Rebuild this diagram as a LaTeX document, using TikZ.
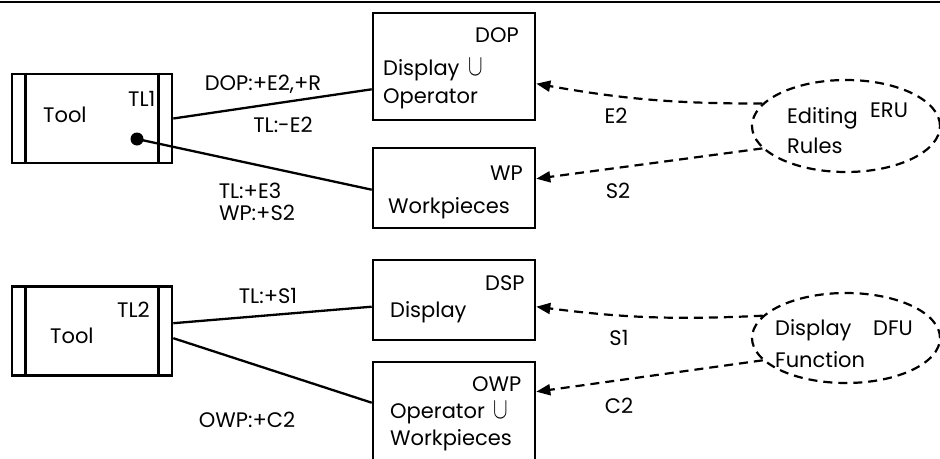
\documentclass[tikz,border=0pt]{standalone}
\usepackage{fontspec}
\usepackage{graphicx}
\setmainfont{Poppins}
\usetikzlibrary{arrows.meta,shapes.geometric,calc,positioning}
\newcommand{\un}{\,\smash{\scalebox{1.05}[1.45]{$\cup$}}}
\tikzset{
  box/.style    = { draw, line width=2.6pt, rectangle, inner sep=0pt },
  toolbox/.style= { box, minimum width=160pt, minimum height=89pt },
  unitbox/.style= { box, minimum width=162pt },
  rule/.style   = { draw, line width=2.2pt, ellipse, inner sep=0pt,
    dash pattern=on 9pt off 6pt },
  ln/.style     = { fill=black, circle, inner sep=0pt, minimum size=13pt },
  txt/.style    = { inner sep=0pt, anchor=base west },
  lbl/.style    = { inner sep=0pt, anchor=base },
  conn/.style   = { line width=2.3pt },
  dep/.style    = { line width=2.2pt, dash pattern=on 9pt off 6pt,
    -{Triangle[length=14pt,width=11pt]} }
}
\begin{document}
\begin{tikzpicture}[x=1pt,y=-1pt,font=\fontsize{21}{24}\selectfont]
  \useasboundingbox (0,0) rectangle (940,458);
  \clip (0,0) rectangle (940,458);
  \draw[line width=2.4pt] (0,2) -- (940,2);
  % tools
  \node[toolbox] (tl1) at (92,118.5) {};
  \node[toolbox] (tl2) at (92,331) {};
  \foreach \t in {tl1,tl2} {
    \draw[line width=2.6pt] ($(\t.north west)+(15,0)$) -- ($(\t.south west)+(15,0)$);
    \draw[line width=2.6pt] ($(\t.north east)+(-15,0)$) -- ($(\t.south east)+(-15,0)$);
  }
  \node[txt] (tl1n) at (128,106) {TL1};
  \node[txt] (tl1t) at (43,122) {Tool};
  \node[ln] (hd) at (137,139) {};
  \node[txt] (tl2n) at (117,317) {TL2};
  \node[txt] (tl2t) at (50,343) {Tool};
  % units
  \node[unitbox, minimum height=107pt] (dop) at (454,66.5) {};
  \node[unitbox, minimum height=80pt] (wp) at (454,188) {};
  \node[unitbox, minimum height=80pt] (dsp) at (454,300) {};
  \node[unitbox, minimum height=120pt] (owp) at (454,422) {};
  \node[txt] (dopn) at (475,42) {DOP};
  \node[txt] (dopa) at (383,75) {Display \un};
  \node[txt] (dopb) at (383,103) {Operator};
  \node[txt] (wpn) at (490,180) {WP};
  \node[txt] (wpa) at (388,213) {Workpieces};
  \node[txt] (dspn) at (485,290) {DSP};
  \node[txt] (dspa) at (390,317) {Display};
  \node[txt] (owpn) at (472,391) {OWP};
  \node[txt] (owpa) at (390,418) {Operator \un};
  \node[txt] (owpb) at (390,445) {Workpieces};
  % rules
  \node[rule, minimum width=188pt, minimum height=92pt] (eru) at (846,126) {};
  \node[rule, minimum width=188pt, minimum height=90pt] (dfu) at (846,338) {};
  \node[txt] (erua) at (787,123) {Editing};
  \node[txt] (erub) at (787,153) {Rules};
  \node[txt] (erun) at (870,117) {ERU};
  \node[txt] (dfua) at (775,335) {Display};
  \node[txt] (dfub) at (775,367) {Function};
  \node[txt] (dfun) at (873,335) {DFU};
  % connectors
  \draw[conn] (tl1.east) -- ($(dop.south west)+(0,-32)$);
  \draw[conn] (hd.center) -- ($(wp.north west)+(0,43)$);
  \draw[conn] ($(tl2.north east)+(0,38)$) -- ($(dsp.north west)+(0,48)$);
  \draw[conn] ($(tl2.north east)+(0,53)$) -- ($(owp.north west)+(0,42)$);
  \draw[dep] (eru.165) to[bend left=5] ($(dop.north east)+(0,72)$);
  \draw[dep] (eru.195) -- ($(wp.north east)+(0,32)$);
  \draw[dep] (dfu.165) to[bend left=5] ($(dsp.north east)+(0,48)$);
  \draw[dep] (dfu.195) -- ($(owp.north east)+(0,31)$);
  % labels
  \node[lbl] (l1) at (263,90) {DOP:+E2,+R};
  \node[lbl] (l2) at (283,132) {TL:-E2};
  \node[lbl] (l3) at (250,198) {TL:+E3};
  \node[lbl] (l4) at (257,220) {WP:+S2};
  \node[lbl] (l5) at (268,303) {TL:+S1};
  \node[lbl] (l6) at (247,427) {OWP:+C2};
  \node[lbl] (l7) at (616,123) {E2};
  \node[lbl] (l8) at (618,198) {S2};
  \node[lbl] (l9) at (619,345) {S1};
  \node[lbl] (l10) at (619,413) {C2};
\end{tikzpicture}
\end{document}
